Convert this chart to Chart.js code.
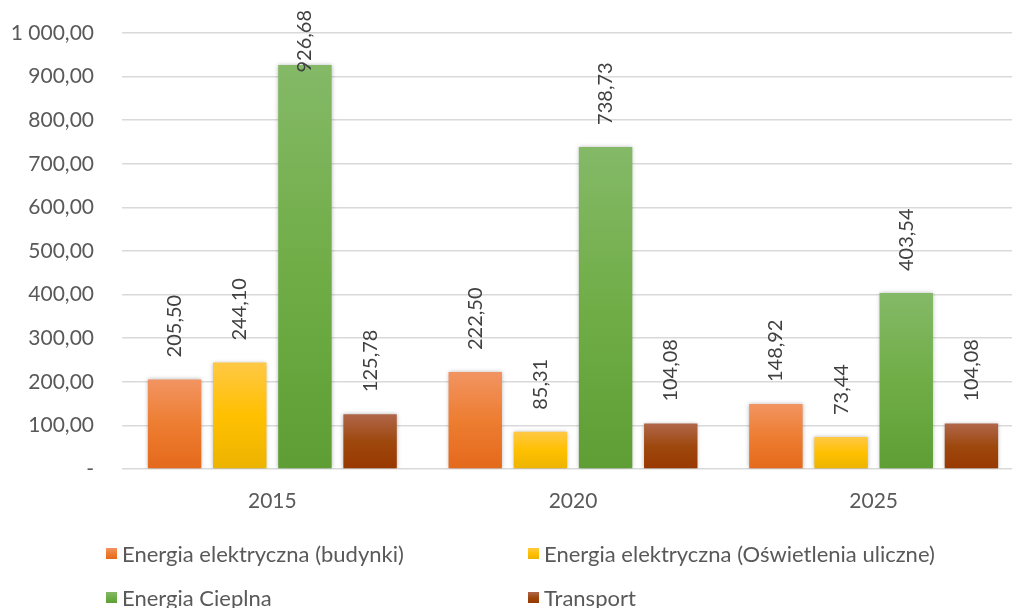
<!DOCTYPE html>
<html>
<head>
<meta charset="utf-8">
<script src="https://cdn.jsdelivr.net/npm/chart.js@4"></script>
<style>
  html, body { margin: 0; padding: 0; background: #fff; overflow: hidden; }
  body { width: 1012px; height: 608px; position: relative; font-family: Lato, 'Liberation Sans', sans-serif; }
  #wrap { position: absolute; left: 0; top: 0; width: 1024px; height: 520px; }
  .legend { position: absolute; left: 0; top: 0; width: 1012px; height: 608px; pointer-events: none; }
  .item { position: absolute; font-size: 22px; color: #595959; white-space: nowrap; line-height: 22px; }
  .item i { position: absolute; left: -16px; top: 5px; width: 11px; height: 11px; }
</style>
</head>
<body>
<div id="wrap"><canvas id="chart" width="1024" height="520"></canvas></div>
<div class="legend" id="legend"></div>
<script>
// ─── dane ───────────────────────────────────────────────
const years = ['2015', '2020', '2025'];
const seriesNames = [
  'Energia elektryczna (budynki)',
  'Energia elektryczna (Oświetlenia uliczne)',
  'Energia Cieplna',
  'Transport'
];
const elBudynki = [205.50, 222.50, 148.92];
const elOswietlenie = [244.10, 85.31, 73.44];
const cieplna = [926.68, 738.73, 403.54];
const transport = [125.78, 104.08, 104.08];
const yTicks = [0, 100, 200, 300, 400, 500, 600, 700, 800, 900, 1000];

// kolory (góra / środek / dół gradientu)
const palette = [
  ['#F29462', '#ED7D31', '#E4691C'],
  ['#FFC845', '#FFC000', '#ECB300'],
  ['#84B967', '#70AD47', '#5E9E34'],
  ['#B0664A', '#9E480E', '#983800']
];

// ─── format liczb: "1 000,00" ──────────────────────────
function fmt(v) {
  const parts = v.toFixed(2).split('.');
  const int = parts[0].replace(/\B(?=(\d{3})+(?!\d))/g, ' ');
  return int + ',' + parts[1];
}

function barGradient(idx) {
  return ctx => {
    const chart = ctx.chart;
    const y = chart.scales.y;
    if (!chart.chartArea || !y || ctx.raw == null) return palette[idx][1];
    const top = y.getPixelForValue(ctx.raw);
    const bottom = y.getPixelForValue(0);
    const g = chart.ctx.createLinearGradient(0, top, 0, bottom);
    g.addColorStop(0, palette[idx][0]);
    g.addColorStop(0.5, palette[idx][1]);
    g.addColorStop(1, palette[idx][2]);
    return g;
  };
}

// etykiety wartości, obrócone o 90°
const valueLabels = {
  id: 'valueLabels',
  afterDatasetsDraw(chart) {
    const ctx = chart.ctx;
    ctx.save();
    ctx.font = '20px Lato, "Liberation Sans", sans-serif';
    ctx.fillStyle = '#404040';
    ctx.textAlign = 'left';
    ctx.textBaseline = 'middle';
    chart.data.datasets.forEach((ds, i) => {
      chart.getDatasetMeta(i).data.forEach((bar, j) => {
        const txt = fmt(ds.data[j]);
        const w = ctx.measureText(txt).width;
        let base = bar.y - 22;
        if (base - w < 10) base = 10 + w;
        ctx.save();
        ctx.translate(bar.x, base);
        ctx.rotate(-Math.PI / 2);
        ctx.fillText(txt, 0, 0);
        ctx.restore();
      });
    });
    ctx.restore();
  }
};

// delikatny cień pod słupkami
const barShadow = {
  id: 'barShadow',
  beforeDatasetsDraw(chart) {
    const ctx = chart.ctx;
    ctx.save();
    ctx.shadowColor = 'rgba(0,0,0,0.28)';
    ctx.shadowBlur = 4;
    ctx.shadowOffsetX = 0;
    ctx.shadowOffsetY = 0;
  },
  afterDatasetsDraw(chart) {
    chart.ctx.restore();
  }
};

const seriesData = [elBudynki, elOswietlenie, cieplna, transport];

new Chart(document.getElementById('chart'), {
  type: 'bar',
  data: {
    labels: years,
    datasets: seriesData.map((d, i) => ({
      label: seriesNames[i],
      data: d,
      backgroundColor: barGradient(i),
      borderWidth: 0
    }))
  },
  options: {
    responsive: false,
    animation: false,
    events: [],
    datasets: { bar: { categoryPercentage: 0.867, barPercentage: 0.82 } },
    layout: { padding: { top: 33, right: 0, bottom: 0, left: 0 } },
    plugins: { legend: { display: false }, tooltip: { enabled: false } },
    scales: {
      x: {
        grid: { display: false, drawTicks: false },
        border: { display: false },
        ticks: { color: '#595959', font: { family: 'Lato', size: 21 }, padding: 20 },
        afterFit: s => { s.height = 51; }
      },
      y: {
        min: 0,
        max: 1000,
        afterBuildTicks: s => { s.ticks = yTicks.map(v => ({ value: v })); },
        grid: { color: '#D9D9D9', lineWidth: 1.5, drawTicks: false },
        border: { display: false },
        ticks: {
          color: '#595959',
          font: { family: 'Lato', size: 21 },
          padding: 28,
          callback: v => v === 0 ? '-' : fmt(v)
        },
        afterFit: s => { s.width = 122; s.paddingTop = 0; s.paddingBottom = 0; }
      }
    }
  },
  plugins: [barShadow, valueLabels]
});

// legenda w dwóch kolumnach (jak w oryginale)
const legendPos = [[122, 543], [544, 543], [122, 587], [544, 587]];
const legendEl = document.getElementById('legend');
seriesNames.forEach((name, i) => {
  const d = document.createElement('div');
  d.className = 'item';
  d.style.left = legendPos[i][0] + 'px';
  d.style.top = legendPos[i][1] + 'px';
  const sw = document.createElement('i');
  sw.style.background = 'linear-gradient(' + palette[i].join(',') + ')';
  d.appendChild(sw);
  d.appendChild(document.createTextNode(name));
  legendEl.appendChild(d);
});
</script>
</body>
</html>
